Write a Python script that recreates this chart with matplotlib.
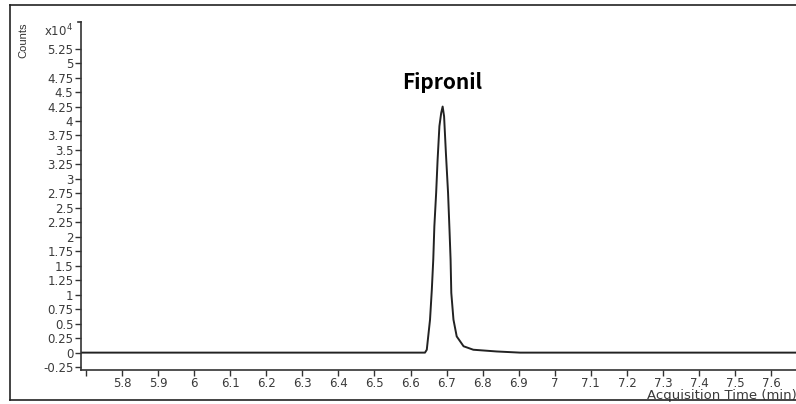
import matplotlib.pyplot as plt
from matplotlib.lines import Line2D

# Chromatogram trace (time in min, counts in units of 1e4)
time_min = [5.686, 6.640, 6.645, 6.654, 6.659, 6.663, 6.666, 6.671, 6.675, 6.680,
            6.685, 6.689, 6.693, 6.698, 6.704, 6.708, 6.711, 6.713, 6.719, 6.728,
            6.747, 6.774, 6.839, 6.904, 7.670]
counts_e4 = [0.0, 0.0, 0.05, 0.57, 1.09, 1.61, 2.18, 2.76, 3.33, 3.91,
             4.14, 4.25, 4.08, 3.45, 2.76, 2.12, 1.61, 1.03, 0.57, 0.28,
             0.11, 0.05, 0.02, 0.0, 0.0]

x_ticks = [5.7, 5.8, 5.9, 6.0, 6.1, 6.2, 6.3, 6.4, 6.5, 6.6, 6.7, 6.8, 6.9,
           7.0, 7.1, 7.2, 7.3, 7.4, 7.5, 7.6]
x_labels = ['', '5.8', '5.9', '6', '6.1', '6.2', '6.3', '6.4', '6.5', '6.6', '6.7',
            '6.8', '6.9', '7', '7.1', '7.2', '7.3', '7.4', '7.5', '7.6']
y_ticks = [-0.25, 0, 0.25, 0.5, 0.75, 1, 1.25, 1.5, 1.75, 2, 2.25, 2.5, 2.75,
           3, 3.25, 3.5, 3.75, 4, 4.25, 4.5, 4.75, 5, 5.25]
y_labels = ['-0.25', '0', '0.25', '0.5', '0.75', '1', '1.25', '1.5', '1.75', '2',
            '2.25', '2.5', '2.75', '3', '3.25', '3.5', '3.75', '4', '4.25', '4.5',
            '4.75', '5', '5.25']

plt.rcParams['font.family'] = ['DejaVu Sans']

W, H = 796, 404
fig = plt.figure(figsize=(W / 100, H / 100), dpi=100)
fig.patch.set_facecolor('white')

# outer frame
for xs, ys in [([10, 796], [5, 5]), ([10, 796], [400, 400]), ([10, 10], [5, 400])]:
    fig.add_artist(Line2D([x / W for x in xs], [1 - y / H for y in ys],
                          transform=fig.transFigure, color='#222222', lw=1.2))

ax = fig.add_axes([81 / W, 1 - 370 / H, (W - 81) / W, (370 - 22) / H])
ax.plot(time_min, counts_e4, color='#222222', lw=1.4)

ax.set_xlim(5.686, 7.669)
ax.set_ylim(-0.30, 5.71)
ax.set_xticks(x_ticks)
ax.set_xticklabels(x_labels)
ax.set_yticks(y_ticks)
ax.set_yticklabels(y_labels)
ax.tick_params(axis='both', direction='out', length=4, width=1, labelsize=8.5,
               labelcolor='#3a3a3a', color='#333333', pad=1.5)
ax.tick_params(axis='x', pad=1)

for s in ['top', 'right']:
    ax.spines[s].set_visible(False)
for s in ['left', 'bottom']:
    ax.spines[s].set_color('#333333')
    ax.spines[s].set_linewidth(1.2)

# small bracket at top of y axis
ax.plot([5.686, 5.6765], [5.71, 5.71], color='#333333', lw=1.2, clip_on=False)

ax.text(-0.08, 0.998, 'Counts', transform=ax.transAxes, rotation=90,
        ha='center', va='top', fontsize=8, color='#333333',
        family=['Liberation Sans Narrow', 'Liberation Sans'])
ax.text(-0.012, 0.975, 'x10$^{4}$', transform=ax.transAxes,
        ha='right', va='center', fontsize=8.5, color='#3a3a3a')
ax.text(7.672, -0.74, 'Acquisition Time (min)', ha='right', va='center',
        fontsize=9.5, color='#3a3a3a', clip_on=False)

ax.text(6.689, 4.66, 'Fipronil', ha='center', va='center', fontsize=15,
        family=['Noto Sans CJK KR', 'DejaVu Sans'], fontweight='bold',
        color='black')

fig.savefig('out.png', dpi=100)
